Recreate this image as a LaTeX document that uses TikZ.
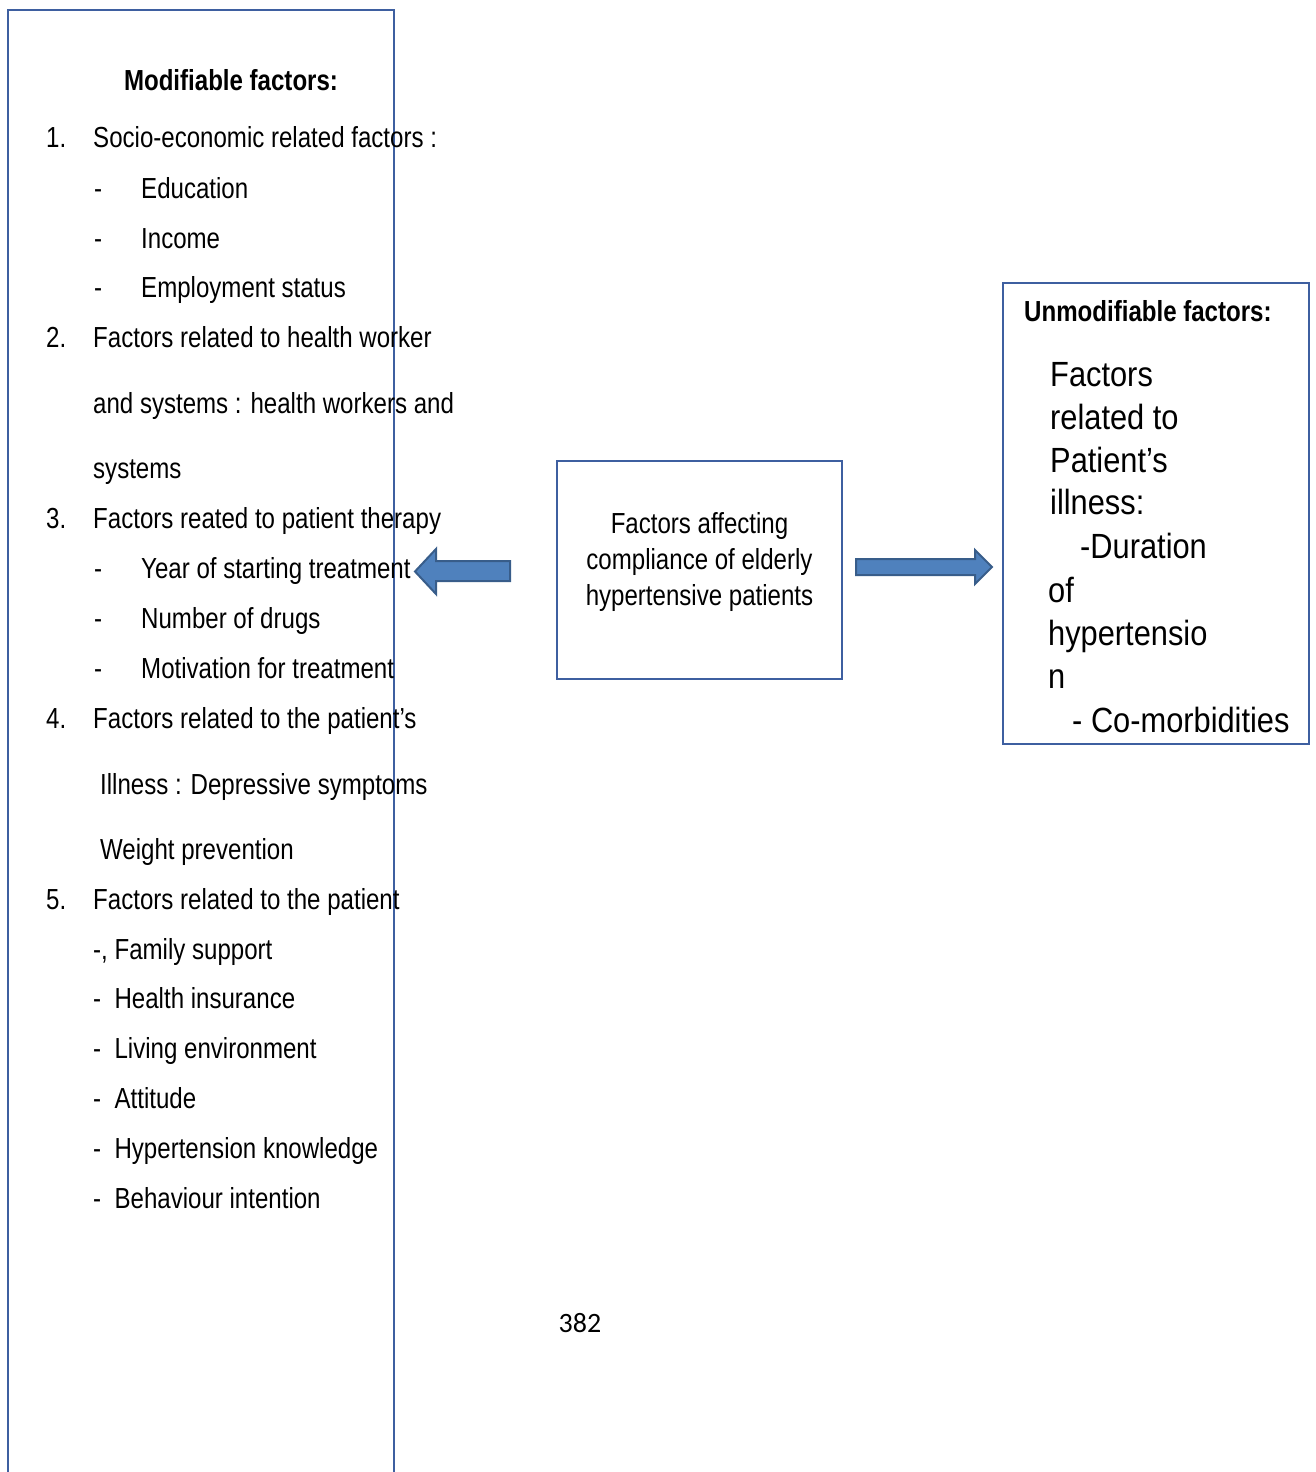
\documentclass[tikz,border=0pt]{standalone}
\usepackage{fontspec}
\setmainfont{Liberation Sans}
\newfontfamily\narrowfont[FakeStretch=0.83]{Liberation Sans}
\newfontfamily\bignarrowfont[FakeStretch=0.88]{Liberation Sans}
\newfontfamily\pagefont{Carlito}
\definecolor{frameblue}{RGB}{62,95,160}
\definecolor{arrowfill}{RGB}{79,129,189}
\definecolor{arrowline}{RGB}{56,93,138}

\begin{document}
\begin{tikzpicture}[x=1pt,y=-1pt]
		\tikzset{frame/.style = {draw=frameblue, line width=2.4pt},
			item/.style = {anchor=base west, inner sep=0pt, font=\narrowfont\fontsize{29}{34}\selectfont},
			head/.style = {item, font=\narrowfont\bfseries\fontsize{29}{34}\selectfont},
			big/.style = {anchor=base west, inner sep=0pt, font=\bignarrowfont\fontsize{35}{40}\selectfont},
			blockarrow/.style = {fill=arrowfill, draw=arrowline, line width=2pt, line join=miter}}
		\useasboundingbox (0,0) rectangle (1315,1472);

		% left box, open at the bottom
		\coordinate (M_bl) at (8,1480);
		\coordinate (M_tl) at (8,10);
		\coordinate (M_tr) at (394,10);
		\coordinate (M_br) at (394,1480);
		\draw[frame] (M_bl)--(M_tl)--(M_tr)--(M_br);

		\node[head, anchor=base] (mod) at (231,90) {Modifiable factors:};

		\node[item] (n_1) at (46,147) {1.};
		\node[item] (i_1) at (93,147) {Socio-economic related factors :};
		\node[item] (d_11) at (94,198) {-};
		\node[item] (i_11) at (141,198) {Education};
		\node[item] (d_12) at (94,248) {-};
		\node[item] (i_12) at (141,248) {Income};
		\node[item] (d_13) at (94,297) {-};
		\node[item] (i_13) at (141,297) {Employment status};

		\node[item] (n_2) at (46,347) {2.};
		\node[item] (i_2) at (93,347) {Factors related to health worker};
		\node[item] (i_2b) at (93,413) {and systems : health workers and};
		\node[item] (i_2c) at (93,478) {systems};

		\node[item] (n_3) at (46,528) {3.};
		\node[item] (i_3) at (93,528) {Factors reated to patient therapy};
		\node[item] (d_31) at (94,578) {-};
		\node[item] (i_31) at (141,578) {Year of starting treatment};
		\node[item] (d_32) at (94,628) {-};
		\node[item] (i_32) at (141,628) {Number of drugs};
		\node[item] (d_33) at (94,678) {-};
		\node[item] (i_33) at (141,678) {Motivation for treatment};

		\node[item] (n_4) at (46,728) {4.};
		\node[item] (i_4) at (93,728) {Factors related to the patient’s};
		\node[item] (i_4b) at (100,794) {Illness : Depressive symptoms};
		\node[item] (i_4c) at (100,859) {Weight prevention};

		\node[item] (n_5) at (46,909) {5.};
		\node[item] (i_5) at (93,909) {Factors related to the patient};
		\node[item] (i_51) at (93,959) {-, Family support};
		\node[item] (i_52) at (93,1008) {-\ \ Health insurance};
		\node[item] (i_53) at (93,1058) {-\ \ Living environment};
		\node[item] (i_54) at (93,1108) {-\ \ Attitude};
		\node[item] (i_55) at (93,1158) {-\ \ Hypertension knowledge};
		\node[item] (i_56) at (93,1208) {-\ \ Behaviour intention};

		% centre box
		\node[frame, minimum width=285pt, minimum height=218pt] (core) at (699.5,570) {};
		\node[align=center, inner sep=0pt, font=\narrowfont\fontsize{29}{36}\selectfont] (core_t) at (699.5,562)
			{Factors affecting\\compliance of elderly\\hypertensive patients};

		% right box
		\node[frame, minimum width=306pt, minimum height=461pt] (unmod) at (1156,513.5) {};
		\node[head] (u_h) at (1024,321) {Unmodifiable factors:};
		\node[big] (u_1) at (1050,386) {Factors};
		\node[big] (u_2) at (1050,429) {related to};
		\node[big] (u_3) at (1050,472) {Patient’s};
		\node[big] (u_4) at (1050,514) {illness:};
		\node[big] (u_5) at (1080,558) {-Duration};
		\node[big] (u_6) at (1048,602) {of};
		\node[big] (u_7) at (1048,645) {hypertensio};
		\node[big] (u_8) at (1048,688) {n};
		\node[big] (u_9) at (1072,732) {- Co-morbidities};

		% block arrows
		\filldraw[blockarrow] (510,561)--(436,561)--(436,549)--(415,571.5)--(436,594)--(436,581)--(510,581)--cycle;
		\filldraw[blockarrow] (856,559)--(975,559)--(975,550)--(992,567)--(975,584)--(975,575)--(856,575)--cycle;

		\node[font=\pagefont\fontsize{28}{32}\selectfont] (page) at (580,1323) {382};

	\end{tikzpicture}
\end{document}
